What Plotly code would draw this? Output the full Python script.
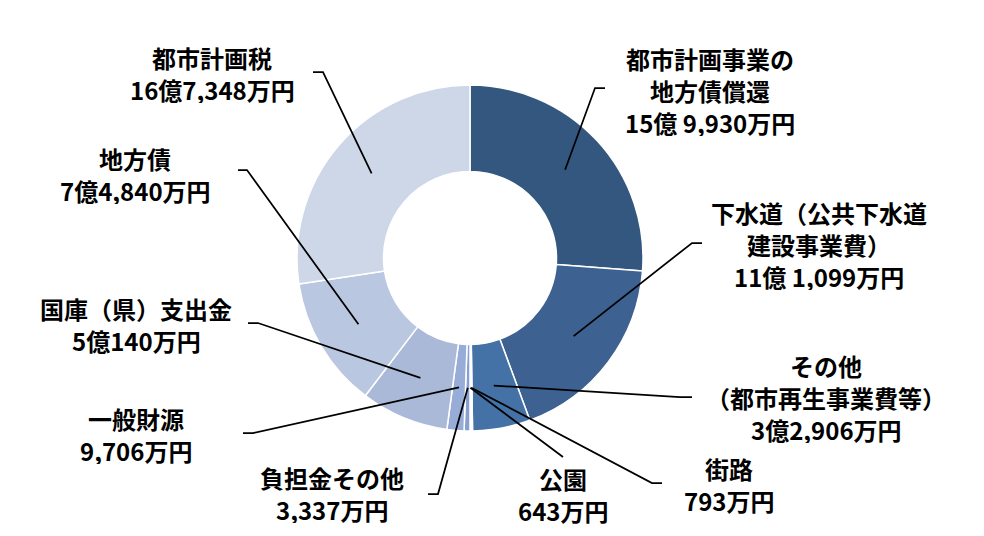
import math
import plotly.graph_objects as go

# 金額（万円）— 12時から時計回り
names = ["都市計画事業の地方債償還", "下水道（公共下水道建設事業費）", "その他（都市再生事業費等）",
         "街路", "公園", "負担金その他", "一般財源", "国庫（県）支出金", "地方債", "都市計画税"]
values = [159930, 111099, 32906, 793, 643, 3337, 9706, 50140, 74840, 167348]
label_lines = [
    ["都市計画事業の", "地方債償還", "15億 9,930万円"],
    ["下水道（公共下水道", "建設事業費）", "11億 1,099万円"],
    ["その他", "（都市再生事業費等）", "3億2,906万円"],
    ["街路", "793万円"],
    ["公園", "643万円"],
    ["負担金その他", "3,337万円"],
    ["一般財源", "9,706万円"],
    ["国庫（県）支出金", "5億140万円"],
    ["地方債", "7億4,840万円"],
    ["都市計画税", "16億7,348万円"],
]
colors = ["#34577f", "#3d6190", "#4472a6", "#5a7db5", "#6d8cc0",
          "#88a0cf", "#97acd6", "#aab9d8", "#bac7e1", "#cdd7e8"]

# レイアウト（ページ上のピクセル、ページ余白 8px を差し引く）
OFF = 8
W, H = 984 - 2 * OFF, 536 - 2 * OFF
cx, cy, R, hole = 470, 258, 173, 0.5
label_pos = [(710, 58), (819, 212), (826, 365), (729, 468), (563, 478),
             (332, 477), (136, 418), (136, 308), (135, 158), (212, 57)]
elbows = [(595, 88, 605), (692, 243, 702), (680, 397, 692), (652, 483, 662), (563, 457, 563),
          (438, 494, 428), (253, 433, 243), (258, 323, 248), (247, 170, 238), (323, 72, 313)]
pitch = 32
font = dict(family="Noto Sans CJK JP", size=24, color="black", weight="bold")


def px(x):
    return (x - OFF) / W


def py(y):
    return 1 - (y - OFF) / H


fig = go.Figure()

fig.add_trace(go.Pie(
    labels=names,
    values=values,
    hole=hole,
    sort=False,
    direction="clockwise",
    rotation=0,
    marker=dict(colors=colors, line=dict(color="white", width=1.5)),
    textinfo="none",
    hoverinfo="label+value",
    showlegend=False,
    domain=dict(x=[px(cx - R), px(cx + R)], y=[py(cy + R), py(cy - R)]),
))

# 引出線：スライス中央角から
total = sum(values)
cum = 0
shapes = []
r_mid = R * (1 + hole) / 2
for v, (ex, ey, tx) in zip(values, elbows):
    ang = (cum + v / 2) / total * 2 * math.pi
    cum += v
    sx = cx + r_mid * math.sin(ang)
    sy = cy - r_mid * math.cos(ang)
    path = f"M {px(sx)},{py(sy)} L {px(ex)},{py(ey)} L {px(tx)},{py(ey)}"
    shapes.append(dict(type="path", xref="paper", yref="paper", path=path,
                       line=dict(color="black", width=1.75), layer="above"))

annotations = []
for lines, (lx, ly) in zip(label_lines, label_pos):
    for i, t in enumerate(lines):
        annotations.append(dict(
            x=px(lx), y=py(ly + i * pitch), xref="paper", yref="paper",
            text=t, showarrow=False, xanchor="center", yanchor="middle",
            height=28, borderpad=0, font=font,
        ))

fig.update_layout(
    width=W, height=H,
    margin=dict(l=0, r=0, t=0, b=0),
    paper_bgcolor="white",
    plot_bgcolor="white",
    shapes=shapes,
    annotations=annotations,
)

fig.write_html("out.html")
